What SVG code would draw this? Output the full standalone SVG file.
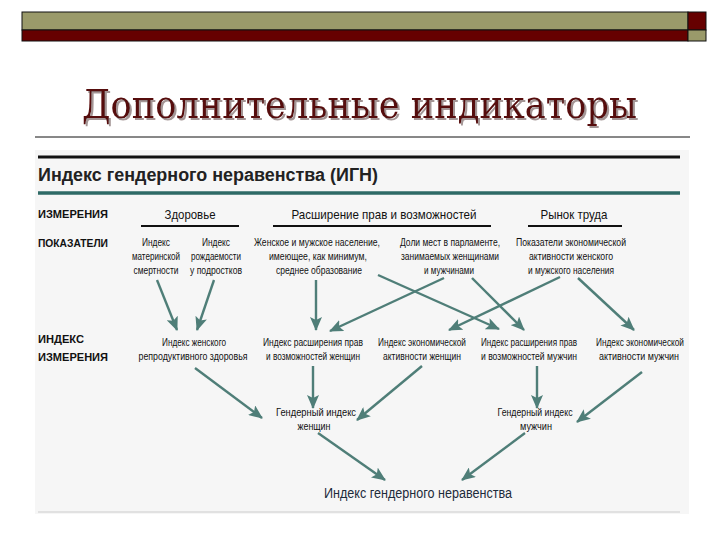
<svg xmlns="http://www.w3.org/2000/svg" width="720" height="540" viewBox="0 0 720 540">
<defs>
<style>
.n{font-family:"Liberation Sans","Arial",sans-serif;font-size:10.5px;fill:#111;text-anchor:middle}
.dim{font-family:"Liberation Sans","Arial",sans-serif;font-size:13.5px;fill:#111;text-anchor:middle}
.lab{font-family:"Liberation Sans","Arial",sans-serif;font-size:11px;font-weight:bold;fill:#111}
.ttl{font-family:"DejaVu Serif","Liberation Serif","Noto Serif",serif;font-size:40px}
.ul{stroke:#111;stroke-width:2}
.c{stroke:#4f7e78;stroke-width:2.4;fill:none;marker-end:url(#ah)}
</style>
<filter id="sh" x="-5%" y="-20%" width="110%" height="140%">
<feDropShadow dx="2" dy="2" stdDeviation="0.6" flood-color="#9a8a8a" flood-opacity="0.9"/>
</filter>
<marker id="ah" markerUnits="userSpaceOnUse" markerWidth="15" markerHeight="12" refX="13" refY="6" orient="auto">
<path d="M0,0 L14,6 L0,12 L3,6 z" fill="#4f7e78"/>
</marker>
</defs>
<rect width="720" height="540" fill="#ffffff"/>
<g id="topbar">
<rect x="22" y="12" width="666" height="18" fill="#9a9a6a" stroke="#111" stroke-width="1"/>
<rect x="22" y="30" width="666" height="11" fill="#660000" stroke="#111" stroke-width="1"/>
<rect x="688" y="12" width="18" height="18" fill="#660000" stroke="#111" stroke-width="1"/>
<rect x="688" y="30" width="18" height="11" fill="#9a9a6a" stroke="#111" stroke-width="1"/>
</g>
<g id="title">
<text class="ttl" x="82" y="118" fill="#560a0a" filter="url(#sh)" textLength="555" lengthAdjust="spacingAndGlyphs">Дополнительные индикаторы</text>
<line x1="35" y1="137" x2="690" y2="137" stroke="#111" stroke-width="1"/>
</g>
<rect x="35" y="150" width="654" height="364" fill="#f6f6f6"/>
<g id="header">
<line x1="38" y1="157" x2="680" y2="157" stroke="#111" stroke-width="3"/>
<text x="38" y="181" font-family="Liberation Sans, Arial, sans-serif" font-size="18" font-weight="bold" fill="#222" textLength="340" lengthAdjust="spacingAndGlyphs">Индекс гендерного неравенства (ИГН)</text>
<line x1="38" y1="193" x2="680" y2="193" stroke="#2e6a66" stroke-width="3.5"/>
<line x1="38" y1="512" x2="680" y2="512" stroke="#cccccc" stroke-width="1"/>
</g>
<g id="row-labels">
<text class="lab" x="38" y="218" textLength="70" lengthAdjust="spacingAndGlyphs">ИЗМЕРЕНИЯ</text>
<text class="lab" x="38" y="247" textLength="70" lengthAdjust="spacingAndGlyphs">ПОКАЗАТЕЛИ</text>
<text class="lab" x="38" y="343" textLength="46" lengthAdjust="spacingAndGlyphs">ИНДЕКС</text>
<text class="lab" x="38" y="361" textLength="70" lengthAdjust="spacingAndGlyphs">ИЗМЕРЕНИЯ</text>
</g>
<g id="dim-health">
<text class="dim" x="190" y="219" textLength="51" lengthAdjust="spacingAndGlyphs">Здоровье</text>
<line class="ul" x1="141" y1="226" x2="239" y2="226"/>
</g>
<g id="dim-empowerment">
<text class="dim" x="384" y="219" textLength="185" lengthAdjust="spacingAndGlyphs">Расширение прав и возможностей</text>
<line class="ul" x1="273" y1="226" x2="491" y2="226"/>
</g>
<g id="dim-labour">
<text class="dim" x="574" y="219" textLength="67" lengthAdjust="spacingAndGlyphs">Рынок труда</text>
<line class="ul" x1="528" y1="226" x2="622" y2="226"/>
</g>
<g id="ind-mmr">
<text class="n" x="156" y="246" textLength="28" lengthAdjust="spacingAndGlyphs">Индекс</text>
<text class="n" x="156" y="260" textLength="48" lengthAdjust="spacingAndGlyphs">материнской</text>
<text class="n" x="156" y="274" textLength="45" lengthAdjust="spacingAndGlyphs">смертности</text>
</g>
<g id="ind-abr">
<text class="n" x="216" y="246" textLength="28" lengthAdjust="spacingAndGlyphs">Индекс</text>
<text class="n" x="216" y="260" textLength="50" lengthAdjust="spacingAndGlyphs">рождаемости</text>
<text class="n" x="216" y="274" textLength="52" lengthAdjust="spacingAndGlyphs">у подростков</text>
</g>
<g id="ind-edu">
<text class="n" x="317" y="246" textLength="126" lengthAdjust="spacingAndGlyphs">Женское и мужское население,</text>
<text class="n" x="318" y="260" textLength="98" lengthAdjust="spacingAndGlyphs">имеющее, как минимум,</text>
<text class="n" x="319" y="274" textLength="86" lengthAdjust="spacingAndGlyphs">среднее образование</text>
</g>
<g id="ind-parl">
<text class="n" x="450" y="246" textLength="100" lengthAdjust="spacingAndGlyphs">Доли мест в парламенте,</text>
<text class="n" x="450" y="260" textLength="98" lengthAdjust="spacingAndGlyphs">занимаемых женщинами</text>
<text class="n" x="449" y="274" textLength="50" lengthAdjust="spacingAndGlyphs">и мужчинами</text>
</g>
<g id="ind-lfpr">
<text class="n" x="571" y="246" textLength="110" lengthAdjust="spacingAndGlyphs">Показатели экономической</text>
<text class="n" x="571" y="260" textLength="84" lengthAdjust="spacingAndGlyphs">активности женского</text>
<text class="n" x="571" y="274" textLength="86" lengthAdjust="spacingAndGlyphs">и мужского населения</text>
</g>
<g id="idx-repro">
<text class="n" x="194" y="346" textLength="64" lengthAdjust="spacingAndGlyphs">Индекс женского</text>
<text class="n" x="193" y="360" textLength="109" lengthAdjust="spacingAndGlyphs">репродуктивного здоровья</text>
</g>
<g id="idx-emp-f">
<text class="n" x="313" y="346" textLength="100" lengthAdjust="spacingAndGlyphs">Индекс расширения прав</text>
<text class="n" x="313" y="360" textLength="94" lengthAdjust="spacingAndGlyphs">и возможностей женщин</text>
</g>
<g id="idx-lab-f">
<text class="n" x="422" y="346" textLength="88" lengthAdjust="spacingAndGlyphs">Индекс экономической</text>
<text class="n" x="422" y="360" textLength="78" lengthAdjust="spacingAndGlyphs">активности женщин</text>
</g>
<g id="idx-emp-m">
<text class="n" x="529" y="346" textLength="96" lengthAdjust="spacingAndGlyphs">Индекс расширения прав</text>
<text class="n" x="529" y="360" textLength="96" lengthAdjust="spacingAndGlyphs">и возможностей мужчин</text>
</g>
<g id="idx-lab-m">
<text class="n" x="640" y="346" textLength="88" lengthAdjust="spacingAndGlyphs">Индекс экономической</text>
<text class="n" x="639" y="360" textLength="80" lengthAdjust="spacingAndGlyphs">активности мужчин</text>
</g>
<g id="gi-f">
<text class="n" x="316" y="416" textLength="80" lengthAdjust="spacingAndGlyphs">Гендерный индекс</text>
<text class="n" x="314" y="430" textLength="33" lengthAdjust="spacingAndGlyphs">женщин</text>
</g>
<g id="gi-m">
<text class="n" x="535" y="416" textLength="75" lengthAdjust="spacingAndGlyphs">Гендерный индекс</text>
<text class="n" x="536" y="430" textLength="32" lengthAdjust="spacingAndGlyphs">мужчин</text>
</g>
<g id="gii">
<text x="418" y="498" font-family="Liberation Sans, Arial, sans-serif" font-size="14" fill="#1d2b3a" text-anchor="middle" textLength="188" lengthAdjust="spacingAndGlyphs">Индекс гендерного неравенства</text>
</g>
<g id="connectors">
<line class="c" x1="157" y1="280" x2="177" y2="330"/>
<line class="c" x1="214" y1="280" x2="197" y2="330"/>
<line class="c" x1="316" y1="280" x2="316" y2="330"/>
<line class="c" x1="444" y1="278" x2="330" y2="331"/>
<line class="c" x1="378" y1="275" x2="499" y2="329"/>
<line class="c" x1="472" y1="278" x2="524" y2="330"/>
<line class="c" x1="560" y1="277" x2="449" y2="330"/>
<line class="c" x1="578" y1="278" x2="634" y2="330"/>
<line class="c" x1="195" y1="368" x2="262" y2="418"/>
<line class="c" x1="313" y1="366" x2="313" y2="408"/>
<line class="c" x1="422" y1="366" x2="357" y2="420"/>
<line class="c" x1="537" y1="366" x2="537" y2="408"/>
<line class="c" x1="642" y1="372" x2="577" y2="422"/>
<line class="c" x1="318" y1="433" x2="385" y2="480"/>
<line class="c" x1="525" y1="433" x2="462" y2="480"/>
</g>
</svg>
